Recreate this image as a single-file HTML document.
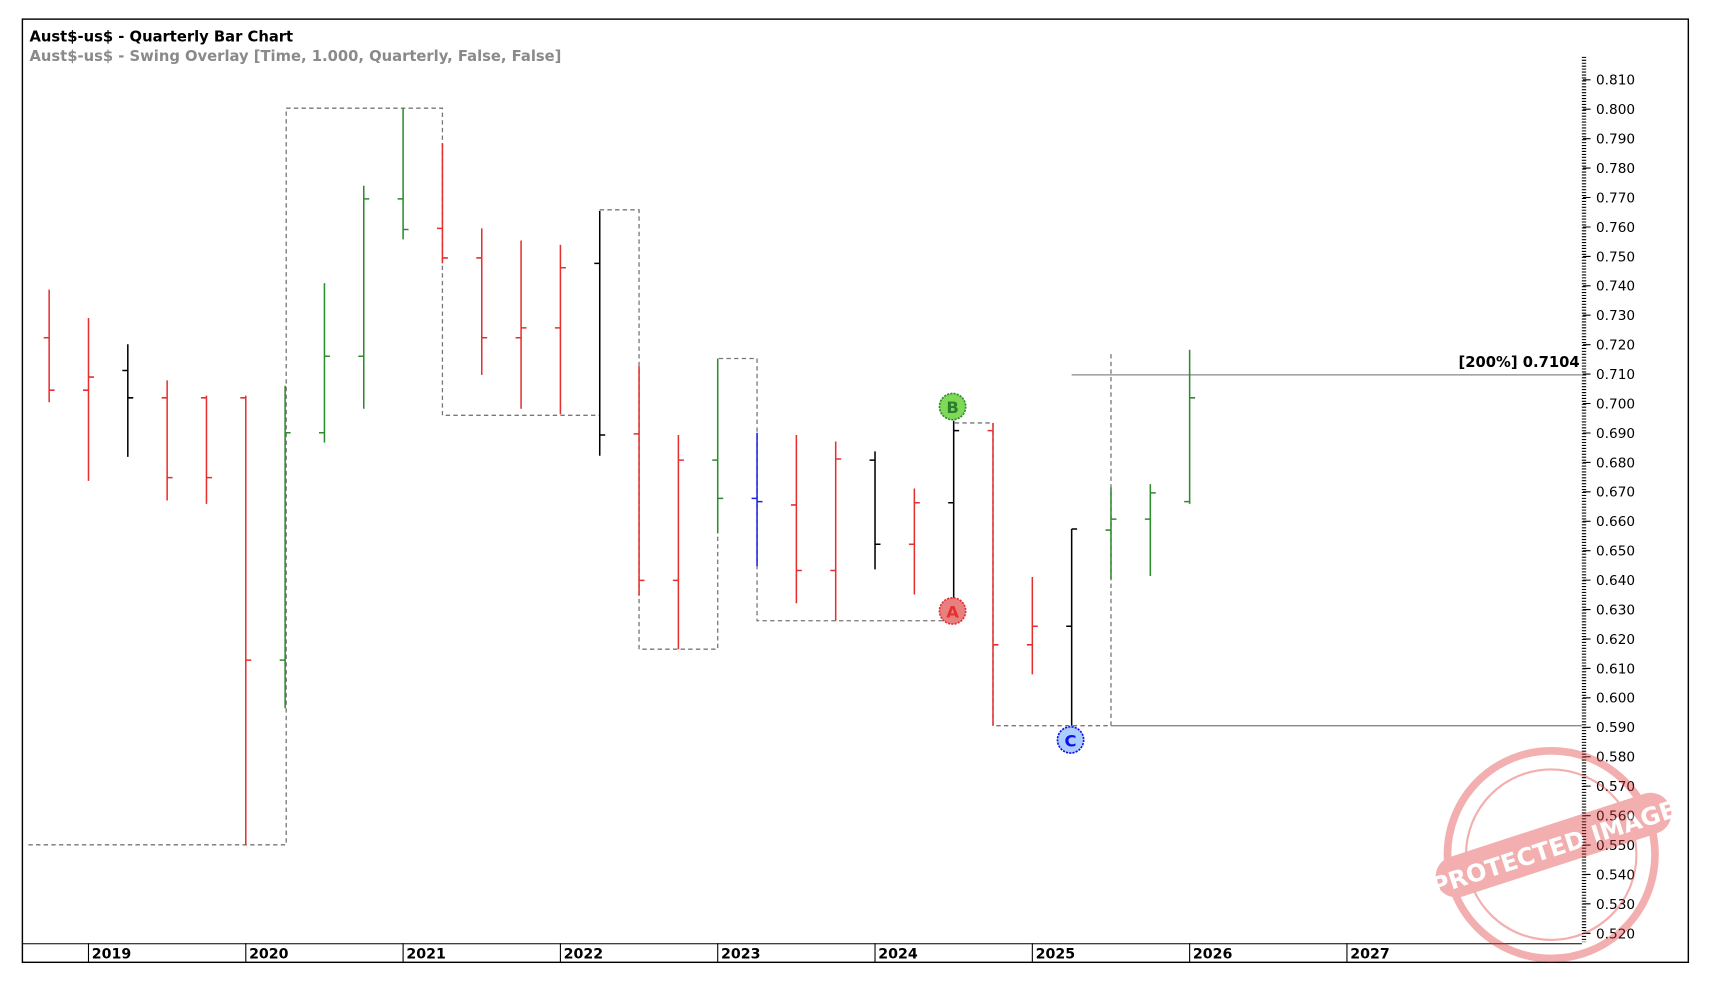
<!DOCTYPE html>
<html><head><meta charset="utf-8"><style>
html,body{margin:0;padding:0;background:#fff;}
svg{display:block;}
text{font-family:"DejaVu Sans","Liberation Sans",sans-serif;}
</style></head><body>
<svg width="1714" height="988" viewBox="0 0 1569 904" preserveAspectRatio="none" xmlns="http://www.w3.org/2000/svg">
<rect x="0" y="0" width="1569" height="904" fill="#fff"/>
<rect x="20.5" y="17.5" width="1525" height="863" fill="none" stroke="#000" stroke-width="1.3"/>
<line x1="20" y1="863.5" x2="1448" y2="863.5" stroke="#000" stroke-width="1"/>
<text x="27" y="38" font-size="13.5" font-weight="bold" fill="#000" font-family="Liberation Sans,sans-serif">Aust$-us$ - Quarterly Bar Chart</text>
<text x="27" y="56" font-size="13.5" font-weight="bold" fill="#8a8a8a" font-family="Liberation Sans,sans-serif">Aust$-us$ - Swing Overlay [Time, 1.000, Quarterly, False, False]</text>
<g font-size="13" font-weight="bold" fill="#000" stroke="#000">
<line x1="81" y1="863" x2="81" y2="881"/><line x1="225" y1="863" x2="225" y2="881"/><line x1="369" y1="863" x2="369" y2="881"/><line x1="513" y1="863" x2="513" y2="881"/><line x1="657" y1="863" x2="657" y2="881"/><line x1="801" y1="863" x2="801" y2="881"/><line x1="945" y1="863" x2="945" y2="881"/><line x1="1089" y1="863" x2="1089" y2="881"/><line x1="1233" y1="863" x2="1233" y2="881"/>
</g>
<g font-size="13" font-weight="bold" fill="#000">
<text x="84" y="877">2019</text><text x="228" y="877">2020</text><text x="372" y="877">2021</text><text x="516" y="877">2022</text><text x="660" y="877">2023</text><text x="804" y="877">2024</text><text x="948" y="877">2025</text><text x="1092" y="877">2026</text><text x="1236" y="877">2027</text>
</g>
<line x1="1450" y1="52" x2="1450" y2="862" stroke="#000" stroke-width="4" stroke-dasharray="1,1.69"/>
<path d="M1449 73H1456M1449 99.9H1456M1449 126.9H1456M1449 153.8H1456M1449 180.7H1456M1449 207.7H1456M1449 234.6H1456M1449 261.5H1456M1449 288.4H1456M1449 315.4H1456M1449 342.3H1456M1449 369.2H1456M1449 396.2H1456M1449 423.1H1456M1449 450H1456M1449 477H1456M1449 503.9H1456M1449 530.8H1456M1449 557.7H1456M1449 584.7H1456M1449 611.6H1456M1449 638.5H1456M1449 665.5H1456M1449 692.4H1456M1449 719.3H1456M1449 746.3H1456M1449 773.2H1456M1449 800.1H1456M1449 827H1456M1449 854H1456" stroke="#000" stroke-width="1"/>
<g font-size="12.5" fill="#000">
<text x="1461" y="77.5">0.810</text><text x="1461" y="104.4">0.800</text><text x="1461" y="131.4">0.790</text><text x="1461" y="158.3">0.780</text><text x="1461" y="185.2">0.770</text><text x="1461" y="212.2">0.760</text><text x="1461" y="239.1">0.750</text><text x="1461" y="266">0.740</text><text x="1461" y="292.9">0.730</text><text x="1461" y="319.9">0.720</text><text x="1461" y="346.8">0.710</text><text x="1461" y="373.7">0.700</text><text x="1461" y="400.7">0.690</text><text x="1461" y="427.6">0.680</text><text x="1461" y="454.5">0.670</text><text x="1461" y="481.5">0.660</text><text x="1461" y="508.4">0.650</text><text x="1461" y="535.3">0.640</text><text x="1461" y="562.2">0.630</text><text x="1461" y="589.2">0.620</text><text x="1461" y="616.1">0.610</text><text x="1461" y="643">0.600</text><text x="1461" y="670">0.590</text><text x="1461" y="696.9">0.580</text><text x="1461" y="723.8">0.570</text><text x="1461" y="750.8">0.560</text><text x="1461" y="777.7">0.550</text><text x="1461" y="804.6">0.540</text><text x="1461" y="831.5">0.530</text><text x="1461" y="858.5">0.520</text>
</g>
<polyline points="26,773 262,773 262,99 405,99 405,380 549,380 549,192 585,192 585,594 657,594 657,328 693,328 693,568 873,568 873,387 909,387 909,664 1017,664 1017,321" fill="none" stroke="#777" stroke-width="1.2" stroke-dasharray="4,3"/>
<line x1="981" y1="343" x2="1448" y2="343" stroke="#888" stroke-width="1.2"/>
<line x1="1017" y1="664" x2="1448" y2="664" stroke="#888" stroke-width="1.2"/>
<text x="1446" y="336" font-size="13.5" font-weight="bold" text-anchor="end" fill="#000" font-family="Liberation Sans,sans-serif">[200%] 0.7104</text>
<g fill="none" stroke-width="1.4">
<path stroke="#e53030" d="M45 265V368M40 309H45M45 357H50 M81 291V440M76 357H81M81 345H86 M153 348V458M148 364H153M153 437H158 M189 362V461M184 364H189M189 437H194 M225 362V773M220 364H225M225 604H230 M405 131V241M400 209H405M405 236H410 M441 209V343M436 236H441M441 309H446 M477 220V374M472 309H477M477 300H482 M513 224V379M508 300H513M513 245H518 M585 335V545M580 397H585M585 531H590 M621 398V594M616 531H621M621 421H626 M729 398V552M724 462H729M729 522H734 M765 404V568M760 522H765M765 420H770 M837 447V544M832 498H837M837 460H842 M909 387V664M904 394H909M909 590H914 M945 528V617M940 590H945M945 573H950"/>
<path stroke="#2e8b2e" d="M261 353V648M256 604H261M261 396H266 M297 259V405M292 396H297M297 326H302 M333 170V374M328 326H333M333 182H338 M369 99V219M364 182H369M369 210H374 M657 328V488M652 421H657M657 456H662 M1017 446V530M1012 485H1017M1017 475H1022 M1053 443V527M1048 475H1053M1053 451H1058 M1089 320V461M1084 459H1089M1089 364H1094"/>
<path stroke="#000" d="M117 315V418M112 339H117M117 364H122 M549 193V417M544 241H549M549 398H554 M801 413V521M796 421H801M801 498H806 M873 385V568M868 460H873M873 394H878 M981 484V664M976 573H981M981 484H986"/>
<path stroke="#2020e0" d="M693 396V518M688 456H693M693 459H698"/>
</g>
<circle cx="872" cy="372" r="12" fill="#7ed957" stroke="#2e8b2e" stroke-width="1.5" stroke-dasharray="2,1"/>
<text x="872" y="378" font-size="15" font-weight="bold" text-anchor="middle" fill="#2e7d2e">B</text>
<circle cx="872" cy="559" r="12" fill="#e88080" stroke="#e53030" stroke-width="1.5" stroke-dasharray="2,1"/>
<text x="872" y="565" font-size="15" font-weight="bold" text-anchor="middle" fill="#e53030">A</text>
<circle cx="980" cy="677" r="12" fill="#aaccff" stroke="#1010ee" stroke-width="1.5" stroke-dasharray="2,1"/>
<text x="980" y="683" font-size="15" font-weight="bold" text-anchor="middle" fill="#1010ee">C</text>
<g opacity="0.4" fill="none" stroke="#e23a3a">
<circle cx="1420" cy="782" r="95" stroke-width="7"/>
<circle cx="1420" cy="782" r="78" stroke-width="2"/>
<g transform="rotate(-18 1420 775)"><rect x="1310" y="755" width="225" height="38" rx="19" fill="#e23a3a" stroke="none"/>
<text x="1422" y="784" font-size="22" font-weight="bold" text-anchor="middle" fill="#fff" stroke="none">PROTECTED IMAGE</text></g>
</g>
</svg>
</body></html>
